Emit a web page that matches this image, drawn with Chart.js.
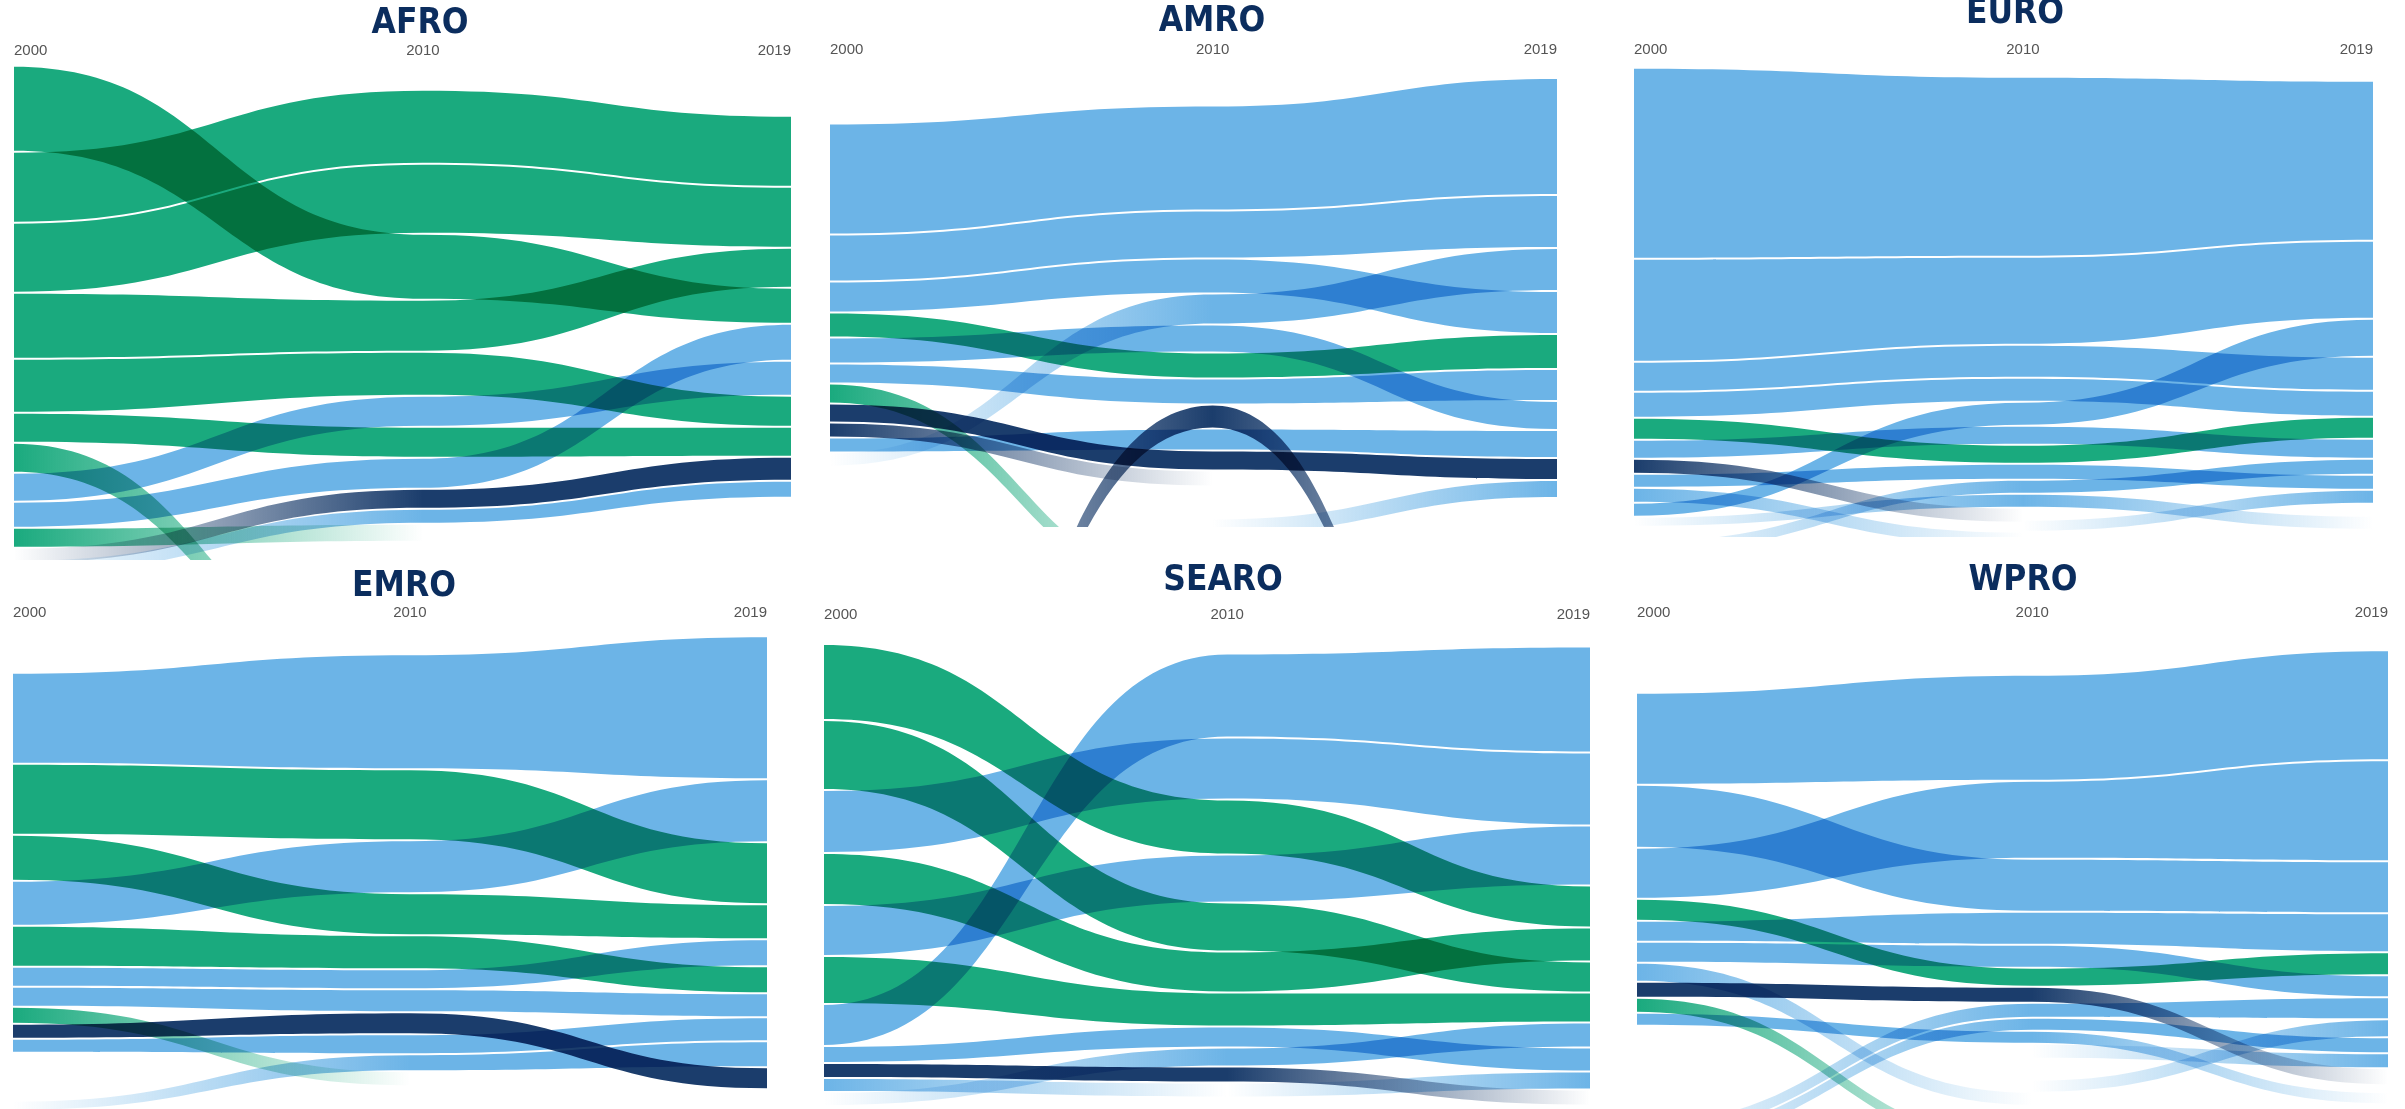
<!DOCTYPE html>
<html lang="en">
<head>
<meta charset="utf-8">
<title>Leading causes by WHO region, 2000–2010–2019</title>
<script src="https://cdn.jsdelivr.net/npm/chart.js@4.4.1/dist/chart.umd.min.js"></script>
<style>
  html, body { margin: 0; padding: 0; background: #ffffff; }
  body { position: relative; width: 2405px; height: 1109px; overflow: hidden; }
  canvas { position: absolute; }
</style>
</head>
<body>
<script>
// ------------------------------------------------------------------
// DATA  (per region: cause group, rank in each year, burden in each year)
// ------------------------------------------------------------------
const YEARS = [2000, 2010, 2019];
const TOP_N = 10;
const REGION_NAMES = ['AFRO', 'AMRO', 'EURO', 'EMRO', 'SEARO', 'WPRO'];

// AFRO
const afroGroup = ['comm','comm','comm','comm','comm','comm','comm','ncd','ncd','comm','inj','ncd'];
const afroRank  = [[1,3,4],[2,1,1],[3,2,2],[4,4,3],[5,5,7],[6,7,8],[7,25,30],[8,6,6],[9,8,5],[10,11,14],[11,9,9],[12,10,10]];
const afroValue = [[84,64,34],[69,72,69],[68,68,59],[64,50,38],[52,42,29],[28,29,28],[28,20,14],[27,29,33],[24,29,35],[18,16,13],[14,18,22],[12,13,15]];

// AMRO
const amroGroup = ['ncd','ncd','ncd','comm','ncd','ncd','comm','inj','inj','ncd','ncd','inj','ncd'];
const amroRank  = [[1,1,1],[2,2,2],[3,3,4],[4,6,5],[5,5,7],[6,7,6],[7,21,25],[8,10,9],[9,11,13],[10,9,8],[11,4,3],[50,8,47],[20,15,10]];
const amroValue = [[109,103,115],[45,46,51],[29,33,41],[23,24,33],[24,26,27],[18,24,30],[18,14,12],[17,18,20],[13,14,13],[13,20,26],[12,29,41],[20,22,20],[12,14,16]];

// EURO
const euroGroup = ['ncd','ncd','ncd','ncd','comm','ncd','inj','ncd','ncd','ncd','ncd','ncd','ncd'];
const euroRank  = [[1,1,1],[2,2,2],[3,3,4],[4,4,5],[5,7,6],[6,6,7],[7,11,13],[8,8,9],[9,13,15],[10,5,3],[13,9,8],[11,10,12],[16,12,10]];
const euroValue = [[189,178,158],[101,86,76],[28,31,32],[24,22,24],[20,17,20],[17,17,18],[13,13,12],[12,14,13],[13,12,11],[12,22,36],[10,12,14],[8,12,12],[9,10,12]];

// EMRO
const emroGroup = ['ncd','comm','comm','ncd','comm','ncd','ncd','comm','inj','ncd','ncd'];
const emroRank  = [[1,1,1],[2,2,3],[3,4,4],[4,3,2],[5,5,6],[6,6,5],[7,7,7],[8,11,14],[9,8,10],[10,9,8],[15,10,9]];
const emroValue = [[89,113,141],[69,69,60],[44,40,33],[43,51,61],[39,32,25],[18,18,25],[18,21,22],[15,13,11],[13,20,20],[12,18,22],[8,15,24]];

// SEARO
const searoGroup = ['comm','comm','ncd','comm','ncd','comm','ncd','ncd','inj','ncd','ncd'];
const searoRank  = [[1,3,4],[2,5,6],[3,2,2],[4,6,5],[5,4,3],[6,7,7],[7,1,1],[8,8,9],[9,10,11],[10,11,10],[11,9,8]];
const searoValue = [[74,53,40],[68,47,29],[61,60,71],[50,39,32],[49,46,58],[46,32,28],[40,82,104],[15,19,22],[13,14,14],[12,13,16],[12,17,23]];

// WPRO
const wproGroup = ['ncd','ncd','ncd','comm','ncd','ncd','ncd','inj','comm','ncd','ncd','ncd','ncd','ncd'];
const wproRank  = [[1,1,1],[2,3,3],[3,2,2],[4,6,5],[5,4,4],[6,5,6],[7,15,18],[8,7,11],[9,19,22],[10,10,13],[19,8,7],[20,9,9],[14,11,10],[22,14,8]];
const wproValue = [[90,104,108],[61,51,50],[49,76,99],[20,17,21],[19,31,37],[19,21,20],[17,12,10],[14,14,15],[13,10,9],[11,11,10],[10,13,20],[9,11,14],[9,13,13],[9,11,16]];

const REGION_DATA = [
  { group: afroGroup,  rank: afroRank,  value: afroValue },
  { group: amroGroup,  rank: amroRank,  value: amroValue },
  { group: euroGroup,  rank: euroRank,  value: euroValue },
  { group: emroGroup,  rank: emroRank,  value: emroValue },
  { group: searoGroup, rank: searoRank, value: searoValue },
  { group: wproGroup,  rank: wproRank,  value: wproValue }
];

// ------------------------------------------------------------------
// STYLE / LAYOUT
// ------------------------------------------------------------------
const GROUP_RGB = { comm: [26,170,126], ncd: [108,180,231], inj: [27,61,108] };
const TITLE_COLOR = '#0b2d5e';
const TITLE_SIZE = 35;
const AXIS_H = 20;
const GAP = 2;            // white separation between stacked bands
const HIDDEN_STEP = 12;   // spacing per rank below the top ten

const FRAMES = [
  { left: 11,   width: 780, extraRight: 38, top: 6,   titleGap: 2,  bottom: 560,  center: 306.8 },
  { left: 827,  width: 730, extraRight: 40, top: 4,   titleGap: 3,  bottom: 527,  center: 288 },
  { left: 1631, width: 742, extraRight: 26, top: -4,  titleGap: 11, bottom: 537,  center: 292.3 },
  { left: 10,   width: 757, extraRight: 31, top: 569, titleGap: 1,  bottom: 1109, center: 862.8 },
  { left: 821,  width: 769, extraRight: 35, top: 563, titleGap: 9,  bottom: 1109, center: 868 },
  { left: 1634, width: 754, extraRight: 24, top: 563, titleGap: 7,  bottom: 1109, center: 859.3 }
];

// centred stacking of the top ten for one year; lower ranks continue below
function stackYear(rank, value, yi) {
  const shown = rank.map((r, i) => i).filter(i => rank[i][yi] <= TOP_N)
                    .sort((a, b) => rank[a][yi] - rank[b][yi]);
  const total = shown.reduce((s, i) => s + value[i][yi], 0) + GAP * (shown.length - 1);
  const top = [], bot = [];
  let y = -total / 2;
  shown.forEach(i => { top[i] = y; bot[i] = y + value[i][yi]; y += value[i][yi] + GAP; });
  const base = total / 2 + GAP;
  rank.forEach((r, i) => {
    if (r[yi] > TOP_N) {
      top[i] = base + (r[yi] - TOP_N - 1) * HIDDEN_STEP;
      bot[i] = top[i] + value[i][yi];
    }
  });
  return { top, bot };
}

function rgba(c, a) { return `rgba(${c[0]},${c[1]},${c[2]},${a})`; }

// solid colour when in the top ten every year, otherwise fade towards years outside it
function bandFill(rgb, ranks) {
  const vis = ranks.map(r => r <= TOP_N);
  if (vis.every(v => v)) return rgba(rgb, 1);
  return (ctx) => {
    const chart = ctx.chart;
    const xs = chart.scales && chart.scales.x;
    if (!chart.chartArea || !xs) return rgba(rgb, 0.5);
    const px = YEARS.map(y => xs.getPixelForValue(y));
    const x0 = px[0], x1 = px[px.length - 1];
    const g = chart.ctx.createLinearGradient(x0, 0, x1, 0);
    px.forEach((p, k) => g.addColorStop((p - x0) / (x1 - x0), rgba(rgb, vis[k] ? 1 : 0)));
    return g;
  };
}

// horizontal-tangent (bump) links between the year points + multiply blending
function applyBump(chart) {
  chart.getSortedVisibleDatasetMetas().forEach(meta => {
    const pts = meta.data;
    pts.forEach((p, k) => {
      const prev = pts[k - 1], next = pts[k + 1];
      p.cp1x = prev ? (prev.x + p.x) / 2 : p.x; p.cp1y = p.y;
      p.cp2x = next ? (p.x + next.x) / 2 : p.x; p.cp2y = p.y;
    });
    if (meta.dataset) { meta.dataset._pointsUpdated = true; meta.dataset._path = undefined; }
  });
}
const bumpPlugin = {
  id: 'bumpLinks',
  afterDatasetsUpdate(chart) { applyBump(chart); },
  beforeDatasetsDraw(chart) {
    applyBump(chart);
    chart.ctx.save();
    chart.ctx.globalCompositeOperation = 'multiply';
  },
  afterDatasetsDraw(chart) { chart.ctx.restore(); }
};

REGION_NAMES.forEach((name, k) => {
  const reg = REGION_DATA[k];
  const f = FRAMES[k];
  const cw = f.width + f.extraRight, ch = f.bottom - f.top;
  const canvas = document.createElement('canvas');
  canvas.width = cw; canvas.height = ch;
  canvas.style.left = f.left + 'px'; canvas.style.top = f.top + 'px';
  canvas.style.width = cw + 'px'; canvas.style.height = ch + 'px';
  document.body.appendChild(canvas);

  const areaTop = f.top + TITLE_SIZE + f.titleGap + AXIS_H;
  const pos = YEARS.map((_, yi) => stackYear(reg.rank, reg.value, yi));
  const common = { borderWidth: 0, pointRadius: 0, pointHoverRadius: 0, tension: 0.4 };
  const datasets = [];
  reg.rank.forEach((r, i) => {
    const rgb = GROUP_RGB[reg.group[i]];
    datasets.push(Object.assign({
      data: YEARS.map((yr, yi) => ({ x: yr, y: pos[yi].top[i] })),
      fill: '+1',
      backgroundColor: bandFill(rgb, r)
    }, common));
    datasets.push(Object.assign({
      data: YEARS.map((yr, yi) => ({ x: yr, y: pos[yi].bot[i] })),
      fill: false,
      backgroundColor: 'rgba(0,0,0,0)'
    }, common));
  });

  new Chart(canvas, {
    type: 'line',
    data: { datasets },
    options: {
      responsive: false,
      animation: false,
      devicePixelRatio: 1,
      events: [],
      layout: { padding: 0, autoPadding: false },
      plugins: {
        legend: { display: false },
        tooltip: { enabled: false },
        title: {
          display: true,
          text: name,
          color: TITLE_COLOR,
          font: { family: "'DejaVu Sans Condensed', 'Liberation Sans Narrow', 'Liberation Sans', sans-serif", size: TITLE_SIZE, weight: 'bold', lineHeight: 1 },
          padding: { top: 0, bottom: f.titleGap }
        }
      },
      scales: {
        x: {
          type: 'linear', position: 'top', min: YEARS[0], max: YEARS[YEARS.length - 1],
          afterBuildTicks: (scale) => { scale.ticks = YEARS.map(v => ({ value: v })); },
          afterFit: (scale) => { scale.height = AXIS_H; },
          ticks: {
            align: 'inner', padding: 3, color: '#555555', maxRotation: 0, autoSkip: false,
            font: { family: "'Liberation Sans', Arial, sans-serif", size: 15 },
            callback: (v) => String(v)
          },
          grid: { display: false, drawTicks: false },
          border: { display: false }
        },
        y: {
          type: 'linear', position: 'right', reverse: true,
          min: areaTop - f.center, max: f.bottom - f.center,
          afterFit: (scale) => { scale.width = f.extraRight; },
          ticks: { display: false },
          grid: { display: false, drawTicks: false },
          border: { display: false }
        }
      }
    },
    plugins: [bumpPlugin]
  });
});
</script>
</body>
</html>
